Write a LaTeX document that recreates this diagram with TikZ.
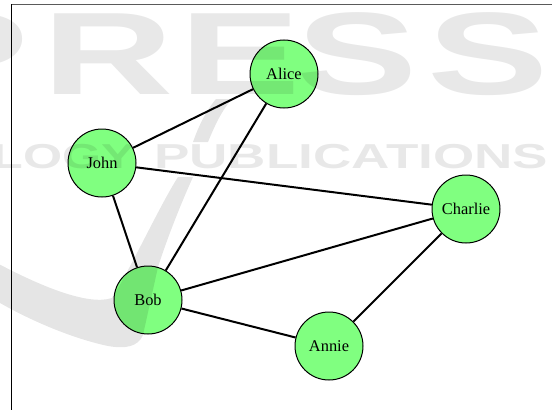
\documentclass[tikz,border=0pt]{standalone}
\usepackage{fontspec}
\setmainfont{Liberation Serif}
\newfontfamily\wmfont{Liberation Sans}
\definecolor{vgreen}{RGB}{128,255,128}
\definecolor{framegray}{RGB}{90,90,90}
\begin{document}
\begin{tikzpicture}[x=0.75pt,y=-0.75pt,
  person/.style={circle, draw=black, line width=0.75pt, fill=vgreen,
    minimum size=51pt, inner sep=0pt, font=\fontsize{12.3}{14}\selectfont},
  link/.style={line width=1.5pt, draw=black},
  wmshape/.style={fill=black, fill opacity=0.1, draw=none},
  wmtext/.style={text=black, text opacity=0.09, inner sep=0pt, font=\wmfont\bfseries}]
\useasboundingbox (0,0) rectangle (552,410);
% frame
\coordinate (fc) at (11.5,4.5);
\coordinate (fr) at (552,4.5);
\coordinate (fb) at (11.5,410);
\draw[framegray, line width=0.9pt] (fc) -- (fr);
\draw[black, line width=0.9pt] (fc) -- (fb);
% nodes
\node[person] (alice)   at (284,74)  {Alice};
\node[person] (john)    at (102,163) {John};
\node[person] (charlie) at (466,209) {Charlie};
\node[person] (bob)     at (148,300) {Bob};
\node[person] (annie)   at (329,346) {Annie};
% edges
\draw[link] (john) -- (alice);
\draw[link] (john) -- (bob);
\draw[link] (john) -- (charlie);
\draw[link] (alice) -- (bob);
\draw[link] (bob) -- (charlie);
\draw[link] (bob) -- (annie);
\draw[link] (charlie) -- (annie);
% watermark
\node[wmtext, anchor=base] (wP)  at (-32,94) {\fontsize{88}{88}\selectfont\scalebox{1.55}[1]{P}};
\node[wmtext, anchor=base] (wR)  at (108,94) {\fontsize{88}{88}\selectfont\scalebox{1.55}[1]{R}};
\node[wmtext, anchor=base] (wE)  at (240,94) {\fontsize{88}{88}\selectfont\scalebox{1.55}[1]{E}};
\node[wmtext, anchor=base] (wS1) at (357,94) {\fontsize{88}{88}\selectfont\scalebox{1.55}[1]{S}};
\node[wmtext, anchor=base] (wS2) at (488,94) {\fontsize{88}{88}\selectfont\scalebox{1.55}[1]{S}};
\node[wmtext, anchor=base east] (wLogy) at (135,168) {\fontsize{26}{26}\selectfont\scalebox{1.45}[1]{LOGY}};
\node[wmtext, anchor=base west] (wPub) at (154,168) {\fontsize{26}{26}\selectfont\scalebox{1.53}[1]{PUBLICATIONS}};
\fill[wmshape] (-5,262) .. controls (40,286) and (88,306) .. (112,298)
  .. controls (130,270) and (160,205) .. (178,177) -- (193,177)
  .. controls (178,210) and (165,245) .. (158,267) -- (143,335)
  .. controls (138,347) and (125,349) .. (108,346)
  .. controls (70,338) and (25,318) .. (-5,300) -- cycle;
\fill[wmshape] (193,142) -- (208,142) .. controls (215,125) and (222,110) .. (232,99)
  -- (216,99) .. controls (205,112) and (198,128) .. cycle;
\end{tikzpicture}
\end{document}
